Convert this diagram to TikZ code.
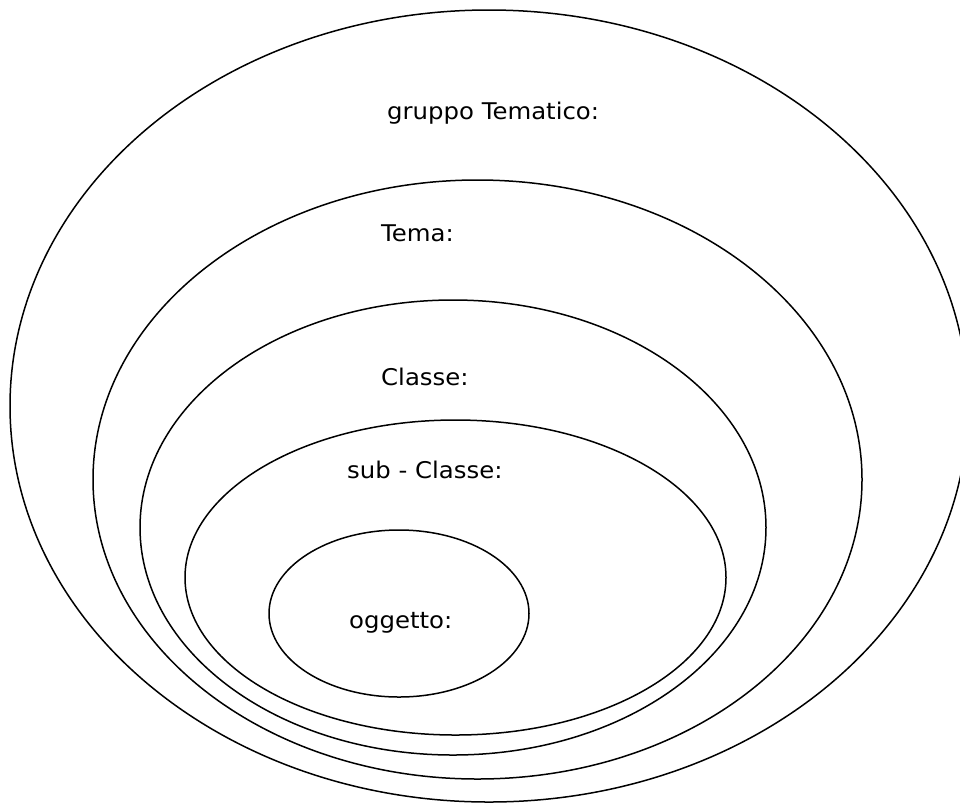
\documentclass[tikz,border=0pt]{standalone}
\usepackage{fontspec}
\setmainfont{DejaVu Sans}[FakeStretch=1.06]
\begin{document}
\begin{tikzpicture}[x=1pt,y=-1pt,
  ring/.style={draw=black,line width=1.5pt},
  lbl/.style={anchor=base west,inner sep=0pt,font=\fontsize{23}{27}\selectfont}]
\useasboundingbox (0,0) rectangle (960,804);
\begin{scope}
\clip (0,0) rectangle (960,804);
\draw[ring] (489,406) ellipse [x radius=479,y radius=396];
\end{scope}
\draw[ring] (477.5,479.5) ellipse [x radius=384.5,y radius=299.5];
\draw[ring] (453,527.5) ellipse [x radius=313,y radius=227.5];
\draw[ring] (455.5,577.5) ellipse [x radius=270.5,y radius=157.5];
\draw[ring] (399,613.5) ellipse [x radius=130,y radius=83.5];
\node[lbl] (g) at (387,119) {gruppo Tematico:};
\node[lbl] (t) at (381,241) {Tema:};
\node[lbl] (c) at (381,385) {Classe:};
\node[lbl] (s) at (347,478) {sub - Classe:};
\node[lbl] (o) at (349,628) {oggetto:};
\end{tikzpicture}
\end{document}
